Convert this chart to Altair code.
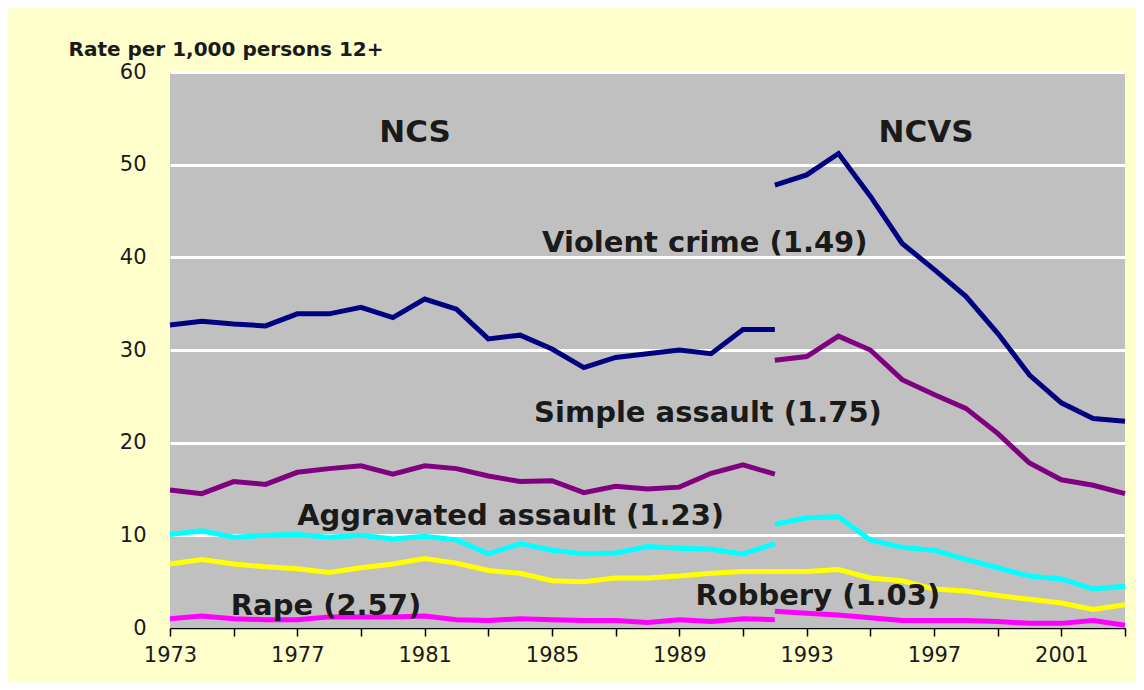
import altair as alt
import pandas as pd

# ---- data ----
years_ncs = list(range(1973, 1993))
years_ncvs = list(range(1992, 2004))

series_names = ["Violent crime", "Simple assault", "Aggravated assault", "Robbery", "Rape"]
series_colors = ["#000080", "#800080", "#00FFFF", "#FFFF00", "#FF00FF"]

violent_ncs = [32.7, 33.1, 32.8, 32.6, 33.9, 33.9, 34.6, 33.5, 35.5, 34.4, 31.2, 31.6, 30.1, 28.1, 29.2, 29.6, 30.0, 29.6, 32.2, 32.2]
violent_ncvs = [47.8, 48.9, 51.2, 46.6, 41.5, 38.7, 35.8, 31.8, 27.3, 24.3, 22.6, 22.3]
simple_ncs = [14.9, 14.5, 15.8, 15.5, 16.8, 17.2, 17.5, 16.6, 17.5, 17.2, 16.4, 15.8, 15.9, 14.6, 15.3, 15.0, 15.2, 16.7, 17.6, 16.6]
simple_ncvs = [28.9, 29.3, 31.5, 30.0, 26.8, 25.2, 23.7, 21.0, 17.8, 16.0, 15.4, 14.5]
agg_ncs = [10.1, 10.5, 9.8, 10.0, 10.1, 9.8, 10.0, 9.6, 9.9, 9.5, 8.0, 9.1, 8.4, 8.0, 8.1, 8.8, 8.6, 8.5, 8.0, 9.1]
agg_ncvs = [11.2, 11.9, 12.0, 9.5, 8.7, 8.4, 7.4, 6.5, 5.6, 5.3, 4.2, 4.5]
rob_ncs = [6.9, 7.4, 6.9, 6.6, 6.4, 6.0, 6.5, 6.9, 7.5, 7.0, 6.2, 5.9, 5.1, 5.0, 5.4, 5.4, 5.6, 5.9, 6.1, 6.1]
rob_ncvs = [6.1, 6.1, 6.3, 5.4, 5.1, 4.2, 4.0, 3.5, 3.1, 2.7, 2.0, 2.5]
rape_ncs = [1.0, 1.3, 1.0, 0.9, 0.9, 1.2, 1.2, 1.2, 1.3, 0.9, 0.8, 1.0, 0.9, 0.8, 0.8, 0.6, 0.9, 0.7, 1.0, 0.9]
rape_ncvs = [1.8, 1.6, 1.4, 1.1, 0.8, 0.8, 0.8, 0.7, 0.5, 0.5, 0.8, 0.3]

# annotations: text, anchor year, anchor value
heading_text = ["NCS", "NCVS"]
heading_year = [1980.7, 1996.75]
heading_value = [53.4, 53.4]

label_text = ["Violent crime (1.49)", "Simple assault (1.75)", "Aggravated assault (1.23)",
              "Rape (2.57)", "Robbery (1.03)"]
label_year = [1989.8, 1989.9, 1983.7, 1977.9, 1993.35]
label_value = [41.5, 23.2, 12.1, 2.4, 3.5]

tick_years = list(range(1973, 2004))
y_ticks = [0, 10, 20, 30, 40, 50, 60]

# ---- build tables ----
rows = []
pairs = [
    ("Violent crime", violent_ncs, violent_ncvs),
    ("Simple assault", simple_ncs, simple_ncvs),
    ("Aggravated assault", agg_ncs, agg_ncvs),
    ("Robbery", rob_ncs, rob_ncvs),
    ("Rape", rape_ncs, rape_ncvs),
]
for name, a, b in pairs:
    for yr, v in zip(years_ncs, a):
        rows.append({"series": name, "survey": "NCS", "year": yr, "rate": v})
    for yr, v in zip(years_ncvs, b):
        rows.append({"series": name, "survey": "NCVS", "year": yr, "rate": v})
df = pd.DataFrame(rows)

df_head = pd.DataFrame({"text": heading_text, "year": heading_year, "rate": heading_value})
df_lab = pd.DataFrame({"text": label_text, "year": label_year, "rate": label_value})

FONT = "DejaVu Sans"
TXT = "#1a1a1a"

x_scale = alt.Scale(domain=[1973, 2003], nice=False, zero=False)
y_scale = alt.Scale(domain=[0, 60], nice=False)

lines = alt.Chart(df).mark_line(strokeWidth=5).encode(
    x=alt.X("year:Q", scale=x_scale, title=None,
            axis=alt.Axis(values=tick_years, format="d",
                          labelExpr="(datum.value - 1973) % 4 == 0 ? datum.label : ''",
                          grid=False, domainColor="black", domainWidth=1.5,
                          tickColor="black", tickWidth=1.5, tickSize=8,
                          labelFont=FONT, labelFontSize=21, labelColor=TXT,
                          labelPadding=8, labelFlush=False, labelOverlap=False)),
    y=alt.Y("rate:Q", scale=y_scale,
            axis=alt.Axis(values=y_ticks, grid=True, gridColor="white", gridWidth=3,
                          domain=False, ticks=False,
                          labelFont=FONT, labelFontSize=21, labelColor=TXT, labelPadding=24,
                          title="Rate per 1,000 persons 12+", titleAngle=0,
                          titleAlign="left", titleBaseline="middle",
                          titleX=-102, titleY=-23, titleFont=FONT, titleFontSize=20,
                          titleFontWeight="bold", titleColor=TXT)),
    color=alt.Color("series:N", scale=alt.Scale(domain=series_names, range=series_colors), legend=None),
    detail="survey:N",
    order=alt.Order("year:Q"),
)

heads = alt.Chart(df_head).mark_text(font=FONT, fontSize=31, fontWeight="bold", color=TXT,
                                      align="center", baseline="middle").encode(
    x=alt.X("year:Q", scale=x_scale), y=alt.Y("rate:Q", scale=y_scale), text="text:N")

labs = alt.Chart(df_lab).mark_text(font=FONT, fontSize=29, fontWeight="bold", color=TXT,
                                    align="center", baseline="middle").encode(
    x=alt.X("year:Q", scale=x_scale), y=alt.Y("rate:Q", scale=y_scale), text="text:N")

chart = alt.layer(lines, heads, labs).properties(
    width=955, height=556,
    padding={"left": 162, "top": 64, "right": 11, "bottom": 54},
    autosize=alt.AutoSizeParams(type="none"),
    background="#FFFFCC",
).configure_view(fill="#C0C0C0", stroke=None)

chart.save("out.html", embed_options={"renderer": "svg", "actions": False})
